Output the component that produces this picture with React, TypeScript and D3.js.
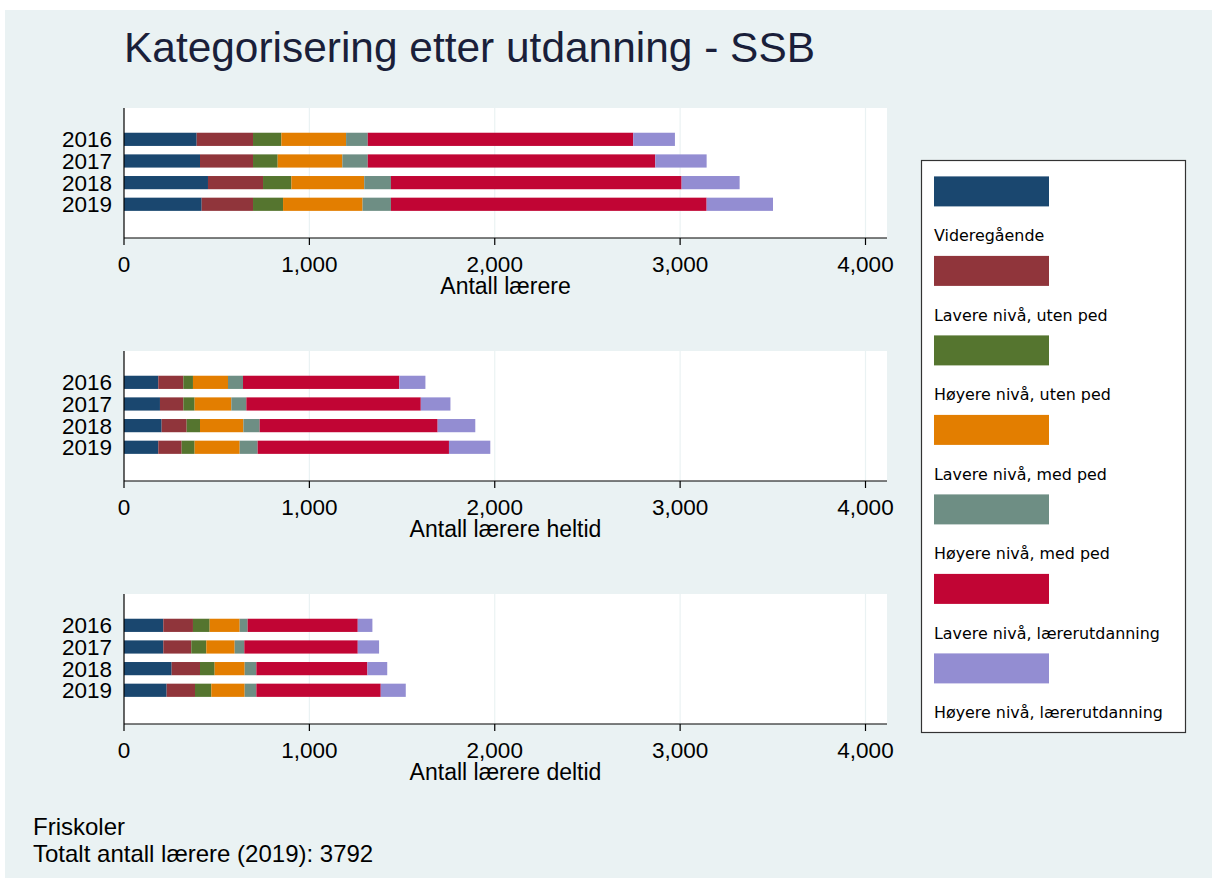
import React from "react";
import * as d3 from "d3";

const years = ["2016", "2017", "2018", "2019"];
const categories = [
  "Videregående",
  "Lavere nivå, uten ped",
  "Høyere nivå, uten ped",
  "Lavere nivå, med ped",
  "Høyere nivå, med ped",
  "Lavere nivå, lærerutdanning",
  "Høyere nivå, lærerutdanning",
];
const colors = ["#1a476f", "#90353b", "#55752f", "#e37e00", "#6e8e84", "#c10534", "#938dd2"];
const xTicks = [0, 1000, 2000, 3000, 4000];

// Antall lærere (per year 2016..2019)
const totVideregaende = [392, 410, 453, 419];
const totLavereUtenPed = [304, 286, 297, 277];
const totHoyereUtenPed = [153, 133, 153, 162];
const totLavereMedPed = [349, 349, 393, 429];
const totHoyereMedPed = [117, 137, 144, 153];
const totLavereLaerer = [1432, 1551, 1568, 1703];
const totHoyereLaerer = [225, 277, 313, 358];

// Antall lærere heltid
const helVideregaende = [185, 194, 203, 185];
const helLavereUtenPed = [135, 126, 135, 126];
const helHoyereUtenPed = [52, 61, 72, 70];
const helLavereMedPed = [189, 198, 234, 243];
const helHoyereMedPed = [81, 81, 88, 97];
const helLavereLaerer = [843, 941, 960, 1032];
const helHoyereLaerer = [141, 160, 203, 223];

// Antall lærere deltid
const delVideregaende = [212, 212, 257, 230];
const delLavereUtenPed = [160, 151, 153, 153];
const delHoyereUtenPed = [90, 81, 79, 88];
const delLavereMedPed = [162, 153, 162, 180];
const delHoyereMedPed = [43, 52, 63, 63];
const delLavereLaerer = [594, 612, 599, 671];
const delHoyereLaerer = [79, 115, 107, 135];

const panelTitles = ["Antall lærere", "Antall lærere heltid", "Antall lærere deltid"];
const panelSeries = [
  [totVideregaende, totLavereUtenPed, totHoyereUtenPed, totLavereMedPed, totHoyereMedPed, totLavereLaerer, totHoyereLaerer],
  [helVideregaende, helLavereUtenPed, helHoyereUtenPed, helLavereMedPed, helHoyereMedPed, helLavereLaerer, helHoyereLaerer],
  [delVideregaende, delLavereUtenPed, delHoyereUtenPed, delLavereMedPed, delHoyereMedPed, delLavereLaerer, delHoyereLaerer],
];

const W = 1212;
const H = 884;
const plotLeft = 124;
const plotRight = 887;
const panelTops = [108, 351, 594];
const panelH = 130;
const FONT = "'Liberation Sans', Arial, sans-serif";

const x = d3.scaleLinear().domain([0, 4000]).range([plotLeft, 865.5]);
const fmt = d3.format(",");

function Panel({ idx }: { idx: number }) {
  const top = panelTops[idx];
  const bottom = top + panelH;
  const series = panelSeries[idx];
  const rows = years.map((yr, i) => {
    const r: any = { year: yr };
    categories.forEach((c, k) => (r[c] = series[k][i]));
    return r;
  });
  const stacked = d3.stack<any>().keys(categories)(rows);
  const y = d3
    .scaleBand<string>()
    .domain(years)
    .range([top + 20.4, top + 20.4 + 86.8])
    .paddingInner(0.39)
    .paddingOuter(0.2);
  return (
    <g>
      <rect x={plotLeft} y={top} width={plotRight - plotLeft} height={panelH} fill="#ffffff" />
      {xTicks.slice(1).map((t) => (
        <line key={t} x1={x(t)} x2={x(t)} y1={top} y2={bottom} stroke="#eaf2f3" strokeWidth={1.2} />
      ))}
      {stacked.map((s, k) => (
        <g key={k} fill={colors[k]}>
          {s.map((d, i) => (
            <rect
              key={i}
              x={x(d[0])}
              y={y(d.data.year)}
              width={x(d[1]) - x(d[0])}
              height={y.bandwidth()}
            />
          ))}
        </g>
      ))}
      <line x1={plotLeft} x2={plotLeft} y1={top} y2={bottom} stroke="#000" strokeWidth={1.2} />
      <line x1={plotLeft} x2={plotRight} y1={bottom} y2={bottom} stroke="#000" strokeWidth={1.2} />
      {xTicks.map((t) => (
        <g key={t}>
          <line x1={x(t)} x2={x(t)} y1={bottom} y2={bottom + 7} stroke="#000" strokeWidth={1.2} />
          <text x={x(t)} y={bottom + 33.5} textAnchor="middle" fontSize={22.5} fontFamily={FONT} fill="#000">
            {fmt(t)}
          </text>
        </g>
      ))}
      {years.map((yr) => (
        <text
          key={yr}
          x={112}
          y={(y(yr) as number) + y.bandwidth() / 2 + 8}
          textAnchor="end"
          fontSize={22.5}
          fontFamily={FONT}
          fill="#000"
        >
          {yr}
        </text>
      ))}
      <text x={(plotLeft + plotRight) / 2} y={bottom + 55.5} textAnchor="middle" fontSize={23} fontFamily={FONT} fill="#000">
        {panelTitles[idx]}
      </text>
    </g>
  );
}

export default function App() {
  const legTop = 176.4;
  const legStep = 79.5;
  return (
    <div style={{ position: "absolute", left: 0, top: 0 }}>
      <svg width={W} height={H} style={{ display: "block" }}>
        <rect x={0} y={0} width={W} height={H} fill="#ffffff" />
        <rect x={5} y={10} width={W - 5} height={868} fill="#eaf2f3" />
        <text x={124} y={62} fontSize={42} fontFamily={FONT} fill="#1a1f3a" textLength={691} lengthAdjust="spacingAndGlyphs">
          Kategorisering etter utdanning - SSB
        </text>
        {panelTitles.map((_, i) => (
          <Panel key={i} idx={i} />
        ))}
        <rect x={921.5} y={160.5} width={264} height={572} fill="#ffffff" stroke="#333" strokeWidth={1.2} />
        {categories.map((c, k) => (
          <g key={c}>
            <rect x={934} y={legTop + k * legStep} width={115} height={30} fill={colors[k]} />
            <text x={934} y={legTop + k * legStep + 65} fontSize={15.9} fontFamily="'DejaVu Sans', Verdana, sans-serif" fill="#000">
              {c}
            </text>
          </g>
        ))}
        <text x={33} y={835} fontSize={24} fontFamily={FONT} fill="#000">
          Friskoler
        </text>
        <text x={33} y={861.5} fontSize={24} fontFamily={FONT} fill="#000">
          Totalt antall lærere (2019): 3792
        </text>
      </svg>
    </div>
  );
}
